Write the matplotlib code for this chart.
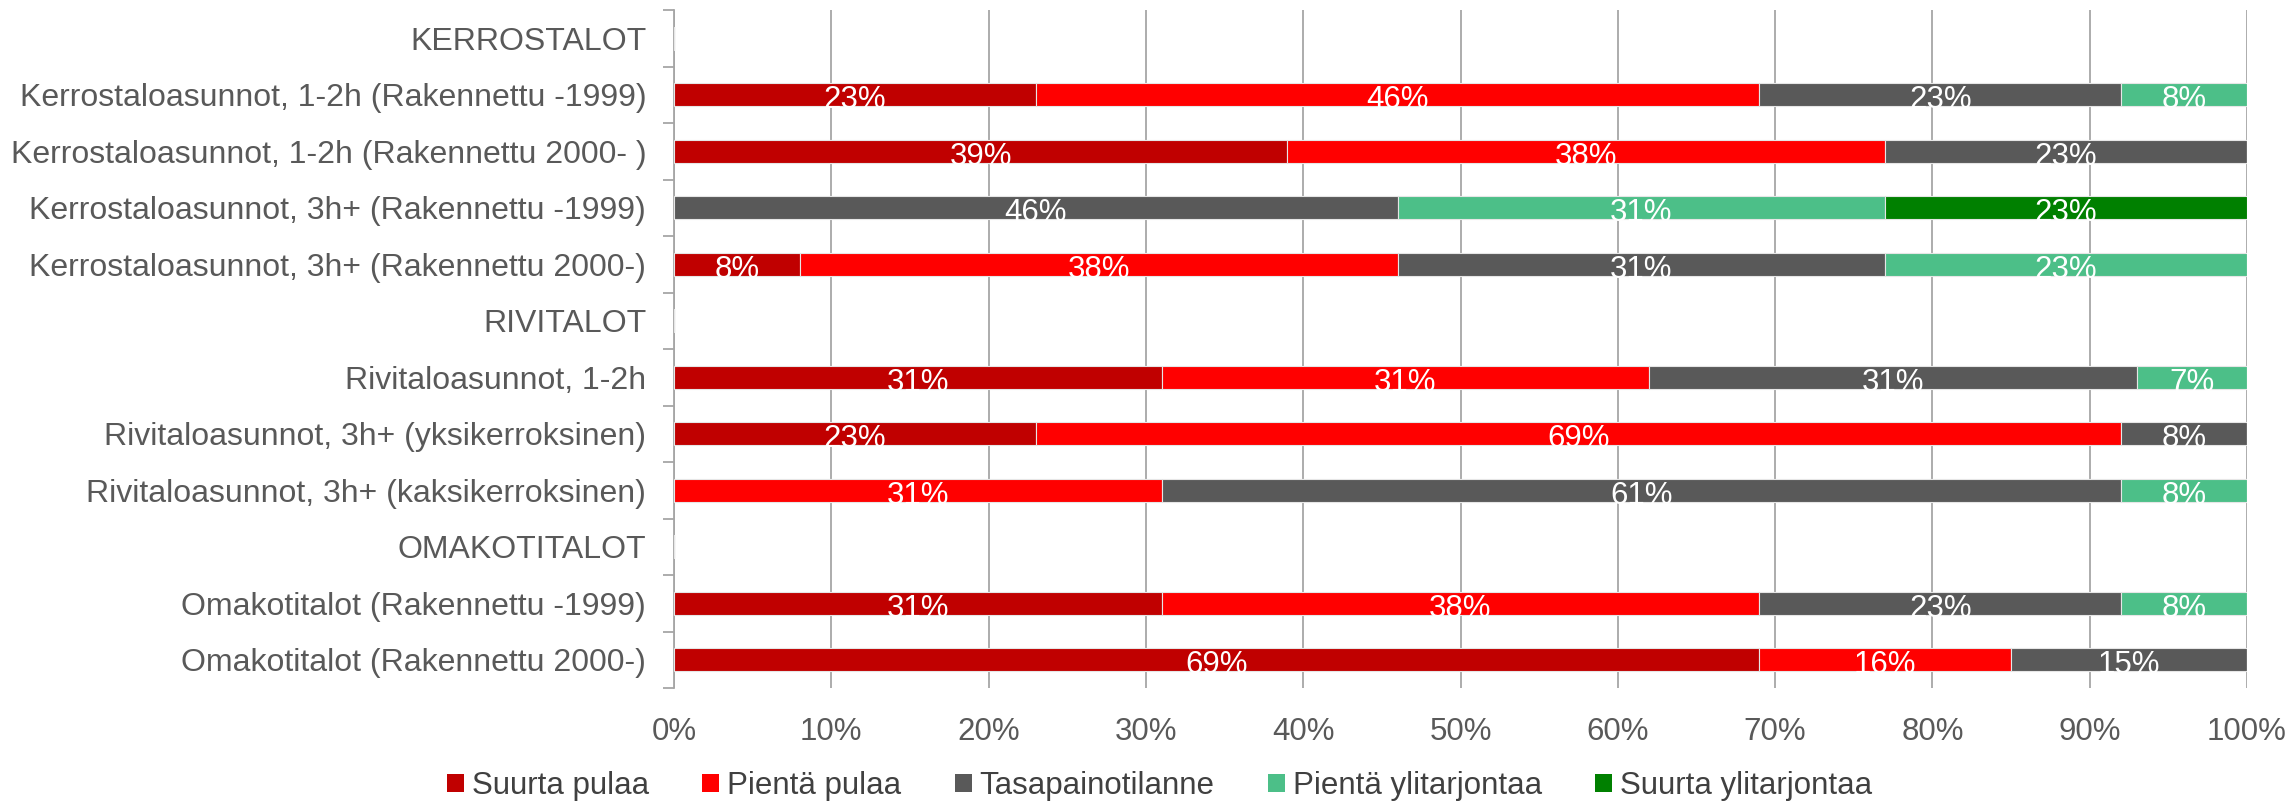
import matplotlib
matplotlib.use("Agg")
import matplotlib.pyplot as plt
import numpy as np
from matplotlib.ticker import FixedLocator, PercentFormatter

plt.rcParams['font.family'] = ['Liberation Sans', 'DejaVu Sans']

categories = [
    "KERROSTALOT",
    "Kerrostaloasunnot, 1-2h (Rakennettu -1999)",
    "Kerrostaloasunnot, 1-2h (Rakennettu 2000- )",
    "Kerrostaloasunnot, 3h+ (Rakennettu -1999)",
    "Kerrostaloasunnot, 3h+ (Rakennettu 2000-)",
    "RIVITALOT",
    "Rivitaloasunnot, 1-2h",
    "Rivitaloasunnot, 3h+ (yksikerroksinen)",
    "Rivitaloasunnot, 3h+ (kaksikerroksinen)",
    "OMAKOTITALOT",
    "Omakotitalot (Rakennettu -1999)",
    "Omakotitalot (Rakennettu 2000-)",
]
series_names = ["Suurta pulaa", "Pientä pulaa", "Tasapainotilanne",
                "Pientä ylitarjontaa", "Suurta ylitarjontaa"]
suurta_pulaa        = [0, 23, 39, 0, 8, 0, 31, 23, 0, 0, 31, 69]
pienta_pulaa        = [0, 46, 38, 0, 38, 0, 31, 69, 31, 0, 38, 16]
tasapainotilanne    = [0, 23, 23, 46, 31, 0, 31, 8, 61, 0, 23, 15]
pienta_ylitarjontaa = [0, 8, 0, 31, 23, 0, 7, 0, 8, 0, 8, 0]
suurta_ylitarjontaa = [0, 0, 0, 23, 0, 0, 0, 0, 0, 0, 0, 0]
colors = ["#C00000", "#FF0000", "#595959", "#4CBF88", "#008000"]

series = [suurta_pulaa, pienta_pulaa, tasapainotilanne,
          pienta_ylitarjontaa, suurta_ylitarjontaa]

W, H = 2287, 807
fig = plt.figure(figsize=(W / 100, H / 100), dpi=100)
ax = fig.add_axes([674 / W, 1 - 688 / H, (2247 - 674) / W, (688 - 10) / H])

y = np.arange(len(categories))
bh = 0.41
fs = 22.5
gray = "#595959"

left = np.zeros(len(categories))
for name, vals, col in zip(series_names, series, colors):
    vals = np.array(vals, dtype=float)
    ax.barh(y, vals, left=left, height=bh, color=col, edgecolor="#E6E6E6",
            linewidth=0.8, label=name, zorder=3)
    for i, v in enumerate(vals):
        if v > 0:
            ax.annotate(f"{int(v)}%", xy=(left[i] + v / 2, y[i] + bh / 2),
                        xytext=(0, -1.5), textcoords="offset points",
                        ha="center", va="baseline", color="white",
                        fontsize=fs, zorder=4)
    left += vals

ax.set_xlim(0, 100)
ax.set_ylim(len(categories) - 0.5, -0.5)
ax.xaxis.set_major_locator(FixedLocator(np.arange(0, 101, 10)))
ax.xaxis.set_major_formatter(PercentFormatter(decimals=0))
ax.grid(axis="x", color="#A6A6A6", linewidth=1.3, zorder=0)
ax.set_axisbelow(True)

ax.set_yticks(y)
ax.set_yticklabels(categories)
ax.yaxis.set_minor_locator(FixedLocator(np.arange(-0.5, len(categories), 1)))
ax.tick_params(axis="y", which="major", length=0, pad=20, labelsize=23.0, labelcolor=gray)
ax.tick_params(axis="y", which="minor", length=8, width=1.3, color="#A6A6A6")
ax.tick_params(axis="x", which="major", length=0, pad=21, labelsize=fs, labelcolor=gray)

for s in ["top", "right", "bottom"]:
    ax.spines[s].set_visible(False)
ax.spines["left"].set_color("#A6A6A6")
ax.spines["left"].set_linewidth(1.3)

handles, labels = ax.get_legend_handles_labels()
leg = fig.legend(handles, labels, loc="center", bbox_to_anchor=(0.507, 0.026),
                 ncol=5, frameon=False, fontsize=fs, handlelength=0.55,
                 handleheight=0.55, handletextpad=0.25, columnspacing=1.7,
                 labelcolor="#404040")
for h in leg.legend_handles:
    h.set_edgecolor("none")

fig.savefig("out.png", dpi=100)
